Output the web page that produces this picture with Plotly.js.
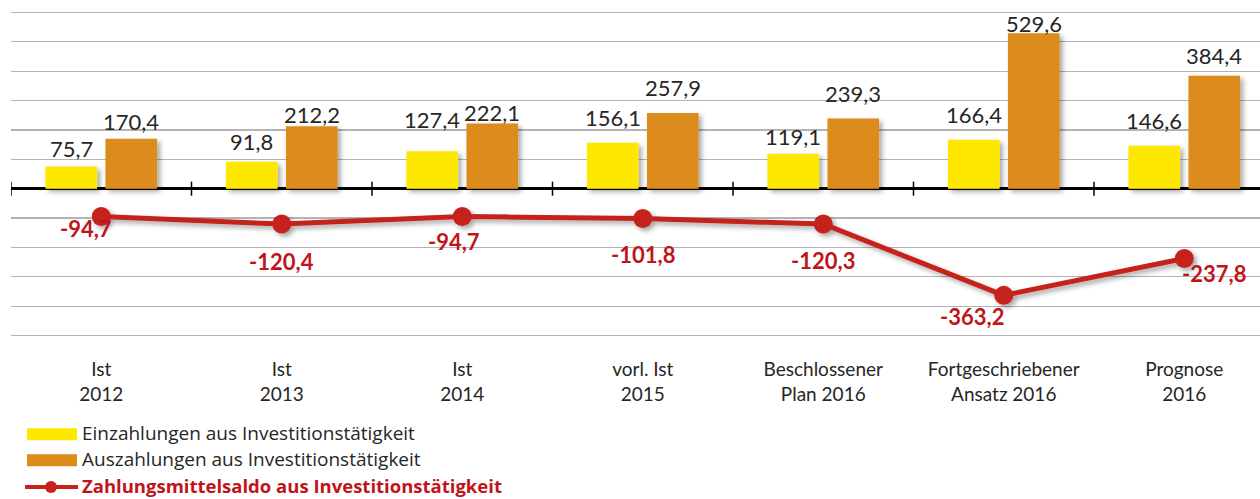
<!DOCTYPE html>
<html>
<head>
<meta charset="utf-8">
<script src="https://cdn.plot.ly/plotly-3.0.1.min.js"></script>
<style>
  html, body { margin: 0; padding: 0; overflow: hidden; background: #fff; }
  #chart { width: 1260px; height: 499px; }
  .barlayer .point path { filter: url(#shadow); }
  .scatterlayer .trace { filter: url(#shadow); }
</style>
</head>
<body>
<svg width="0" height="0" style="position:absolute">
  <defs>
    <filter id="shadow" x="-30%" y="-30%" width="170%" height="170%">
      <feDropShadow dx="3" dy="3" stdDeviation="2.5" flood-color="#000" flood-opacity="0.35"/>
    </filter>
  </defs>
</svg>
<div id="chart"></div>
<script>
// ---- data ----
const categories = ["Ist<br>2012", "Ist<br>2013", "Ist<br>2014", "vorl. Ist<br>2015",
                    "Beschlossener<br>Plan 2016", "Fortgeschriebener<br>Ansatz 2016", "Prognose<br>2016"];
const einzahlungen = [75.7, 91.8, 127.4, 156.1, 119.1, 166.4, 146.6];
const auszahlungen = [170.4, 212.2, 222.1, 257.9, 239.3, 529.6, 384.4];
const saldo = [-94.7, -120.4, -94.7, -101.8, -120.3, -363.2, -237.8];
const seriesNames = ["Einzahlungen aus Investitionstätigkeit",
                     "Auszahlungen aus Investitionstätigkeit",
                     "Zahlungsmittelsaldo aus Investitionstätigkeit"];

// ---- styling ----
const FONT = "Lato, 'Open Sans', sans-serif";
const LFONT = "'Open Sans', Lato, sans-serif";
const cYellow = "#FFE800", cOrange = "#DC8C1A", cRed = "#C5221B", cRedText = "#C0141B";
const cText = "#262626";
const yMin = -505, yMax = 605;
const W = 1260, H = 499;
const pxPerUnit = 0.2945;
const mT = 12 - 5 * pxPerUnit, mB = 163 - 5 * pxPerUnit, mL = 11;
const plotW = W - mL, plotH = H - mT - mB;
const catPx = 180.5;
const xMax = -0.5 + plotW / catPx;

// label offsets (pixels)
const einLabelShift = [18, 20, 32, 25, 17, 25, 25];
const ausLabelShift = [17, 12, 11, 25, 25, 10, 20];
const saldoLabelDx = [-15, 0, -8, 0, 0, -32, 30];
const saldoLabelDy = [12, 37, 25, 36, 36, 21, 15];

const fmt = v => v.toFixed(1).replace(".", ",");
const px2paperX = px => (px - mL) / plotW;
const px2paperY = py => (H - mB - py) / plotH;

const traces = [
  { type: "bar", name: seriesNames[0], x: categories, y: einzahlungen,
    marker: { color: cYellow }, hoverinfo: "y" },
  { type: "bar", name: seriesNames[1], x: categories, y: auszahlungen,
    marker: { color: cOrange }, hoverinfo: "y" },
  { type: "scatter", mode: "lines+markers", name: seriesNames[2], x: categories, y: saldo,
    line: { color: cRed, width: 5 }, marker: { color: cRed, size: 19 }, hoverinfo: "y" }
];

const annotations = [];
categories.forEach((c, i) => {
  annotations.push({ x: c, y: einzahlungen[i], xref: "x", yref: "y", text: fmt(einzahlungen[i]),
    showarrow: false, xshift: -30, yshift: einLabelShift[i], yanchor: "middle",
    font: { family: FONT, size: 22, color: cText } });
  annotations.push({ x: c, y: auszahlungen[i], xref: "x", yref: "y", text: fmt(auszahlungen[i]),
    showarrow: false, xshift: 30, yshift: ausLabelShift[i], yanchor: "middle",
    font: { family: FONT, size: 22, color: cText } });
  annotations.push({ x: c, y: saldo[i], xref: "x", yref: "y", text: "<b>" + fmt(saldo[i]) + "</b>",
    showarrow: false, xshift: saldoLabelDx[i], yshift: -saldoLabelDy[i], yanchor: "middle",
    font: { family: FONT, size: 22, color: cRedText } });
});

// axis tick marks crossing the zero line at category boundaries
const shapes = [];
for (let i = 0; i <= categories.length; i++) {
  shapes.push({ type: "line", xref: "x", yref: "y", ysizemode: "pixel", yanchor: 0,
    x0: i - 0.5, x1: i - 0.5, y0: -7, y1: 7, line: { color: "#000", width: 1.5 } });
}

// custom legend
const legendRows = [434, 460, 486];
shapes.push({ type: "rect", xref: "paper", yref: "paper",
  x0: px2paperX(27), x1: px2paperX(77), y0: px2paperY(429), y1: px2paperY(441),
  fillcolor: cYellow, line: { width: 0 } });
shapes.push({ type: "rect", xref: "paper", yref: "paper",
  x0: px2paperX(27), x1: px2paperX(77), y0: px2paperY(455), y1: px2paperY(467),
  fillcolor: cOrange, line: { width: 0 } });
shapes.push({ type: "line", xref: "paper", yref: "paper",
  x0: px2paperX(25), x1: px2paperX(78), y0: px2paperY(488), y1: px2paperY(488),
  line: { color: cRed, width: 4 } });
shapes.push({ type: "circle", xref: "paper", yref: "paper", xsizemode: "pixel", ysizemode: "pixel",
  xanchor: px2paperX(51), yanchor: px2paperY(488), x0: -6, x1: 6, y0: -6, y1: 6,
  fillcolor: cRed, line: { width: 0 } });
seriesNames.forEach((n, i) => {
  annotations.push({ xref: "paper", yref: "paper", x: px2paperX(81), y: px2paperY(legendRows[i]),
    xanchor: "left", yanchor: "middle", showarrow: false, borderpad: 0,
    text: i === 2 ? "<b>" + n + "</b>" : n,
    font: { family: LFONT, size: i === 2 ? 18.5 : 19, color: i === 2 ? cRedText : cText } });
});

const layout = {
  width: W, height: H,
  margin: { l: mL, r: 0, t: mT, b: mB, pad: 0 },
  paper_bgcolor: "#fff", plot_bgcolor: "#fff",
  showlegend: false,
  barmode: "group", bargap: 0.335, bargroupgap: 0.14,
  separators: ",.",
  font: { family: FONT, color: cText },
  xaxis: { type: "category", range: [-0.5, xMax], showgrid: false, showline: false, zeroline: false,
    ticks: "", tickfont: { family: FONT, size: 19, color: cText }, ticklabelstandoff: 19,
    fixedrange: true },
  yaxis: { range: [yMin, yMax], tickvals: [-500, -400, -300, -200, -100, 100, 200, 300, 400, 500, 600],
    showgrid: true, gridcolor: "#b4b4b4", gridwidth: 1.3,
    zeroline: true, zerolinecolor: "#000", zerolinewidth: 2.5,
    showticklabels: false, ticks: "", showline: false, fixedrange: true },
  annotations: annotations,
  shapes: shapes
};

Plotly.newPlot("chart", traces, layout, { displayModeBar: false, staticPlot: true });
</script>
</body>
</html>
